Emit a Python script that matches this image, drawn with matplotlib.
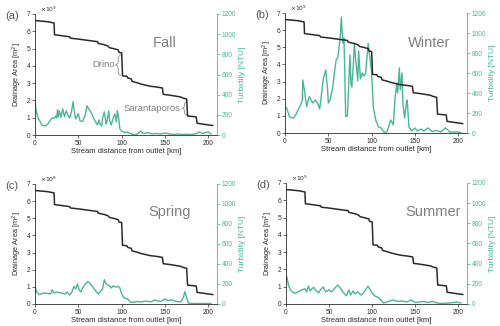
import numpy as np
import matplotlib
matplotlib.use("Agg")
import matplotlib.pyplot as plt

# Drainage area step profile (km, x1e9 m^2)
area_km = [0, 5, 15, 22, 22.5, 30, 40, 41, 50, 60, 72, 73, 80, 84, 86, 92, 96, 97, 100, 101,
           106, 107, 111, 112, 118, 122, 128, 133, 140, 147, 148, 156, 162, 168, 170, 175, 176,
           186, 187, 195, 205]
area_val = [6.62, 6.6, 6.55, 6.48, 5.8, 5.75, 5.68, 5.6, 5.55, 5.48, 5.4, 5.3, 5.22, 5.15, 5.05,
            4.98, 4.92, 4.78, 4.75, 3.42, 3.4, 3.3, 3.25, 3.1, 3.02, 2.95, 2.88, 2.82, 2.78, 2.72,
            2.35, 2.3, 2.25, 2.2, 2.15, 2.08, 1.1, 1.05, 0.68, 0.62, 0.55]

fall_km = [0, 1, 3, 6, 8, 12, 15, 18, 20, 22, 24, 25, 26, 27, 28, 30, 31, 32, 34, 36, 38, 40, 42,
           44, 45, 47, 50, 52, 55, 58, 60, 62, 65, 68, 72, 74, 75, 77, 78, 80, 82, 83, 85, 86, 88,
           90, 92, 94, 95, 96, 98, 100, 103, 106, 110, 113, 115, 118, 122, 124, 126, 130, 135, 140,
           145, 150, 155, 160, 165, 170, 175, 180, 185, 190, 193, 197, 200, 203]
fall_val = [340, 260, 180, 130, 95, 90, 110, 150, 170, 165, 190, 170, 250, 180, 240, 175, 220, 260,
            180, 240, 200, 170, 230, 330, 250, 160, 210, 140, 135, 200, 290, 260, 220, 160, 100, 150,
            110, 90, 170, 230, 110, 130, 240, 150, 100, 160, 210, 130, 240, 200, 60, 40, 25, 30, 15,
            5, 0, 10, 40, 20, 15, 25, 10, 15, 10, 20, 10, 5, 10, 5, 8, 5, 10, 30, 15, 25, 30, 10]

winter_km = [0, 2, 5, 8, 10, 13, 15, 18, 20, 20.5, 22, 25, 28, 30, 32, 35, 38, 40, 42, 44, 46, 47,
             49, 50, 52, 55, 57, 59, 61, 63, 64, 65, 66, 67, 68, 69, 70, 72, 74, 75, 76, 77, 79, 80,
             82, 84, 85, 87, 89, 91, 93, 96, 98, 100, 102, 105, 108, 111, 115, 118, 122, 125, 127,
             129, 130, 132, 133, 135, 136, 138, 140, 141, 143, 146, 150, 153, 157, 160, 165, 170,
             175, 180, 185, 188, 190, 195, 200, 203]
winter_val = [265, 250, 165, 150, 150, 190, 230, 280, 330, 530, 450, 265, 365, 330, 300, 330, 290,
              240, 380, 530, 600, 630, 450, 300, 330, 450, 600, 730, 760, 900, 1000, 1160, 1000, 900,
              950, 600, 165, 170, 600, 780, 500, 460, 700, 895, 700, 520, 820, 540, 600, 570, 600,
              895, 750, 600, 250, 120, 60, 50, 0, 20, 130, 80, 350, 500, 400, 650, 430, 600, 300, 150,
              300, 330, 60, 20, 50, 20, 40, 20, 50, 15, 25, 10, 50, 30, 10, 10, 10, 5]

spring_km = [0, 2, 5, 10, 15, 18, 20, 22, 25, 30, 35, 37, 40, 42, 45, 47, 49, 51, 53, 55, 58, 61,
             63, 66, 70, 73, 75, 78, 80, 82, 84, 86, 88, 90, 93, 96, 98, 100, 103, 107, 110, 113,
             118, 122, 128, 133, 138, 142, 145, 150, 153, 158, 163, 168, 171, 173, 175, 177, 180,
             190, 200, 203]
spring_val = [176, 120, 93, 110, 105, 100, 143, 110, 120, 110, 100, 120, 90, 110, 176, 150, 200, 140,
              120, 160, 200, 226, 210, 180, 130, 100, 120, 150, 243, 200, 190, 180, 160, 180, 170,
              175, 160, 100, 60, 50, 20, 15, 25, 20, 30, 20, 40, 30, 25, 50, 35, 40, 25, 20, 60, 123,
              60, 10, 5, 5, 5, 5]

summer_km = [0, 1, 3, 6, 10, 14, 18, 22, 24, 26, 28, 30, 32, 35, 38, 40, 43, 46, 50, 53, 56, 60, 63,
             66, 70, 73, 75, 78, 80, 83, 87, 90, 93, 95, 97, 100, 103, 106, 110, 113, 117, 120, 125,
             130, 135, 140, 145, 150, 155, 160, 165, 170, 175, 180, 190, 198, 203]
summer_val = [237, 270, 180, 130, 105, 120, 140, 150, 120, 178, 130, 150, 165, 130, 110, 140, 170,
              120, 140, 120, 150, 188, 160, 120, 80, 140, 90, 130, 100, 120, 90, 110, 150, 178, 150,
              110, 80, 70, 40, 10, 20, 30, 40, 25, 30, 20, 40, 15, 20, 25, 15, 25, 10, 5, 10, 20, 10]

seasons = ["Fall", "Winter", "Spring", "Summer"]
panel_tags = ["(a)", "(b)", "(c)", "(d)"]
turb_km = [fall_km, winter_km, spring_km, summer_km]
turb_val = [fall_val, winter_val, spring_val, summer_val]

BLACK = "#2b2b2b"
TEAL = "#4ab699"
GRAY = "#808080"

plt.rcParams["font.family"] = ["Liberation Sans", "DejaVu Sans"]

W, H = 500, 326
fig = plt.figure(figsize=(W / 100, H / 100), dpi=100)
boxes = [(35, 217, 14, 135), (285, 467, 13, 133), (35, 217, 184, 304), (286, 467, 183, 304)]
season_pos = [(0.71, 0.76), (0.79, 0.75), (0.74, 0.77), (0.81, 0.76)]


def brace(ax, x, y0, y1, width, color):
    ym = (y0 + y1) / 2
    s = np.linspace(0, 1, 100)
    prof = 0.5 * (1 - np.exp(-s * 10)) + 0.5 * s ** 8
    xs = x - width * prof
    ax.plot(xs, y1 + (ym - y1) * s, color=color, lw=0.7)
    ax.plot(xs, y0 + (ym - y0) * s, color=color, lw=0.7)


for i in range(4):
    l, r, t, b = boxes[i]
    ax = fig.add_axes([l / W, 1 - b / H, (r - l) / W, (b - t) / H])
    ax2 = ax.twinx()
    ax2.plot(turb_km[i], turb_val[i], color=TEAL, lw=1.0)
    ax.plot(area_km, area_val, color=BLACK, lw=1.1, zorder=3)
    ax.set_zorder(ax2.get_zorder() + 1)
    ax.patch.set_visible(False)

    ax.set_xlim(0, 210)
    ax.set_ylim(0, 7)
    ax2.set_ylim(0, 1200)
    ax.set_xticks([0, 50, 100, 150, 200])
    ax.set_yticks(range(0, 8))
    ax2.set_yticks(range(0, 1201, 200))

    for a in (ax, ax2):
        a.spines["top"].set_visible(False)
    ax.spines["right"].set_visible(False)
    ax2.spines["left"].set_visible(False)
    ax2.spines["bottom"].set_visible(False)
    ax2.spines["right"].set_color(TEAL)
    ax2.spines["right"].set_linewidth(0.6)
    ax.spines["left"].set_color(BLACK)
    ax.spines["bottom"].set_color(BLACK)
    ax.spines["left"].set_linewidth(0.6)
    ax.spines["bottom"].set_linewidth(0.6)

    ax.tick_params(axis="both", direction="out", length=2, width=0.5, labelsize=4.8, pad=1.5,
                   colors=BLACK)
    ax2.tick_params(axis="y", direction="out", length=2, width=0.5, labelsize=4.8, pad=1.5,
                    colors=TEAL)
    ax.set_xlabel("Stream distance from outlet [km]", fontsize=5.5, labelpad=1, color=BLACK)
    ax.set_ylabel("Drainage Area [m$^2$]", fontsize=5.3, labelpad=2, color=BLACK)
    ax2.set_ylabel("Turbidity [NTU]", fontsize=6, labelpad=2, color=TEAL)

    ax.text(0.03, 1.0, r"$\times10^9$", transform=ax.transAxes, fontsize=4.3, color=BLACK,
            va="bottom", ha="left")
    fig.text((l - 30) / W, 1 - (t - 3) / H, panel_tags[i], fontsize=8, color="#555555",
             ha="left", va="top")
    sx, sy = season_pos[i]
    ax.text(sx, sy, seasons[i], transform=ax.transAxes, fontsize=10.5, color=GRAY,
            ha="center", va="center")

    if i == 0:
        brace(ax, 98.5, 3.47, 4.62, 5, "#9a9a9a")
        ax.text(92, 4.05, "Drino", fontsize=6.8, color=GRAY, ha="right", va="center")
        brace(ax, 175, 1.16, 1.93, 5, "#9a9a9a")
        ax.text(168.5, 1.55, "Sarantaporos", fontsize=6.8, color=GRAY, ha="right", va="center")

fig.savefig("out.png", dpi=100)
